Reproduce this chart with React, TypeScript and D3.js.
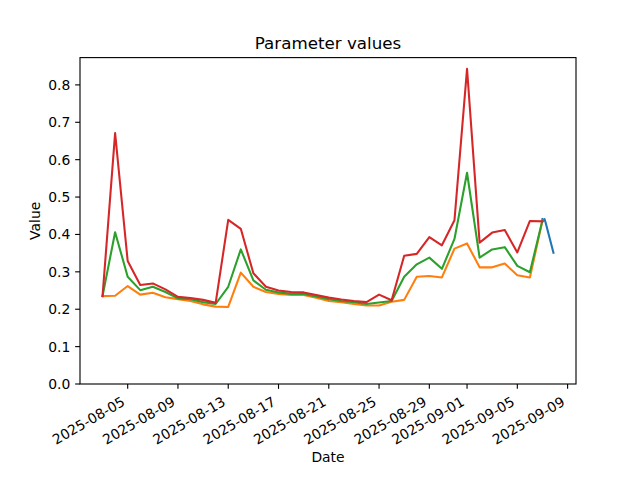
import React from "react";
import * as d3 from "d3";

const dates = [
  "2025-08-03", "2025-08-04", "2025-08-05", "2025-08-06", "2025-08-07", "2025-08-08",
  "2025-08-09", "2025-08-10", "2025-08-11", "2025-08-12", "2025-08-13", "2025-08-14",
  "2025-08-15", "2025-08-16", "2025-08-17", "2025-08-18", "2025-08-19", "2025-08-20",
  "2025-08-21", "2025-08-22", "2025-08-23", "2025-08-24", "2025-08-25", "2025-08-26",
  "2025-08-27", "2025-08-28", "2025-08-29", "2025-08-30", "2025-08-31", "2025-09-01",
  "2025-09-02", "2025-09-03", "2025-09-04", "2025-09-05", "2025-09-06", "2025-09-07",
];

const orangeValues = [
  0.235, 0.236, 0.262, 0.239, 0.244, 0.232, 0.227, 0.222, 0.213, 0.207,
  0.206, 0.298, 0.260, 0.246, 0.241, 0.238, 0.238, 0.231, 0.222, 0.219,
  0.214, 0.210, 0.210, 0.220, 0.225, 0.287, 0.289, 0.285, 0.362, 0.376,
  0.312, 0.312, 0.322, 0.291, 0.285, 0.437,
];

const greenValues = [
  0.235, 0.406, 0.287, 0.251, 0.260, 0.246, 0.229, 0.227, 0.219, 0.214,
  0.260, 0.360, 0.277, 0.252, 0.245, 0.241, 0.241, 0.234, 0.227, 0.222,
  0.219, 0.214, 0.218, 0.222, 0.287, 0.320, 0.338, 0.308, 0.388, 0.565,
  0.338, 0.360, 0.366, 0.316, 0.299, 0.438,
];

const redValues = [
  0.235, 0.671, 0.329, 0.265, 0.269, 0.253, 0.233, 0.230, 0.225, 0.217,
  0.439, 0.415, 0.296, 0.260, 0.250, 0.246, 0.245, 0.238, 0.231, 0.226,
  0.222, 0.219, 0.239, 0.224, 0.343, 0.348, 0.393, 0.371, 0.438, 0.843,
  0.378, 0.405, 0.412, 0.352, 0.436, 0.435,
];

const blueTimes = [
  "2025-09-07 00:00", "2025-09-07 02:00", "2025-09-07 04:00", "2025-09-07 06:00", "2025-09-07 21:00",
];
const blueValues = [0.441, 0.437, 0.441, 0.432, 0.351];

const xTickLabels = [
  "2025-08-05", "2025-08-09", "2025-08-13", "2025-08-17", "2025-08-21",
  "2025-08-25", "2025-08-29", "2025-09-01", "2025-09-05", "2025-09-09",
];
const yTicks = [0, 0.1, 0.2, 0.3, 0.4, 0.5, 0.6, 0.7, 0.8];

const W = 640;
const H = 480;
const L = 80;
const R = 576;
const T = 57.6;
const B = 384;
const FONT = "DejaVu Sans, sans-serif";

const parseDay = d3.utcParse("%Y-%m-%d");
const parseTime = d3.utcParse("%Y-%m-%d %H:%M");

export default function App() {
  const dayDates = dates.map((d) => parseDay(d) as Date);
  const blueDates = blueTimes.map((d) => parseTime(d) as Date);
  const allDates = [...dayDates, ...blueDates];
  const t0 = d3.min(allDates, (d) => d.getTime()) as number;
  const t1 = d3.max(allDates, (d) => d.getTime()) as number;
  const pad = (t1 - t0) * 0.05;
  const x = d3.scaleUtc().domain([new Date(t0 - pad), new Date(t1 + pad)]).range([L, R]);
  const y = d3.scaleLinear().domain([0, 0.873]).range([B, T]);

  const line = d3
    .line<[Date, number]>()
    .x((d) => x(d[0]))
    .y((d) => y(d[1]));

  const series = [
    { color: "#1f77b4", pts: blueDates.map((d, i) => [d, blueValues[i]] as [Date, number]) },
    { color: "#ff7f0e", pts: dayDates.map((d, i) => [d, orangeValues[i]] as [Date, number]) },
    { color: "#2ca02c", pts: dayDates.map((d, i) => [d, greenValues[i]] as [Date, number]) },
    { color: "#d62728", pts: dayDates.map((d, i) => [d, redValues[i]] as [Date, number]) },
  ];

  const tickLen = 4.86;
  const fs = 13.9;

  return (
    <svg width={W} height={H} style={{ position: "absolute", left: 0, top: 0, background: "#fff" }}>
      <rect x={0} y={0} width={W} height={H} fill="#fff" />
      {series.map((s, i) => (
        <path
          key={i}
          d={line(s.pts) as string}
          fill="none"
          stroke={s.color}
          strokeWidth={2.08}
          strokeLinejoin="round"
          strokeLinecap="square"
        />
      ))}
      <rect x={L} y={T} width={R - L} height={B - T} fill="none" stroke="#000" strokeWidth={1.11} />
      {yTicks.map((v) => (
        <g key={v}>
          <line x1={L - tickLen} x2={L} y1={y(v)} y2={y(v)} stroke="#000" strokeWidth={1.11} />
          <text
            x={L - tickLen - 4.86}
            y={y(v)}
            dy="0.36em"
            textAnchor="end"
            fontFamily={FONT}
            fontSize={fs}
            fill="#000"
          >
            {v.toFixed(1)}
          </text>
        </g>
      ))}
      {xTickLabels.map((lab) => {
        const xx = x(parseDay(lab) as Date);
        return (
          <g key={lab}>
            <line x1={xx} x2={xx} y1={B} y2={B + tickLen} stroke="#000" strokeWidth={1.11} />
            <text
              transform={`translate(${xx - 8},${B + tickLen + 4.86}) rotate(-30)`}
              dy="0.9em"
              textAnchor="end"
              fontFamily={FONT}
              fontSize={fs}
              fill="#000"
            >
              {lab}
            </text>
          </g>
        );
      })}
      <text x={(L + R) / 2} y={49.3} textAnchor="middle" fontFamily={FONT} fontSize={16.7} fill="#000">
        Parameter values
      </text>
      <text x={(L + R) / 2} y={462} textAnchor="middle" fontFamily={FONT} fontSize={fs} fill="#000">
        Date
      </text>
      <text
        transform={`translate(40,${(T + B) / 2}) rotate(-90)`}
        textAnchor="middle"
        fontFamily={FONT}
        fontSize={fs}
        fill="#000"
      >
        Value
      </text>
    </svg>
  );
}
